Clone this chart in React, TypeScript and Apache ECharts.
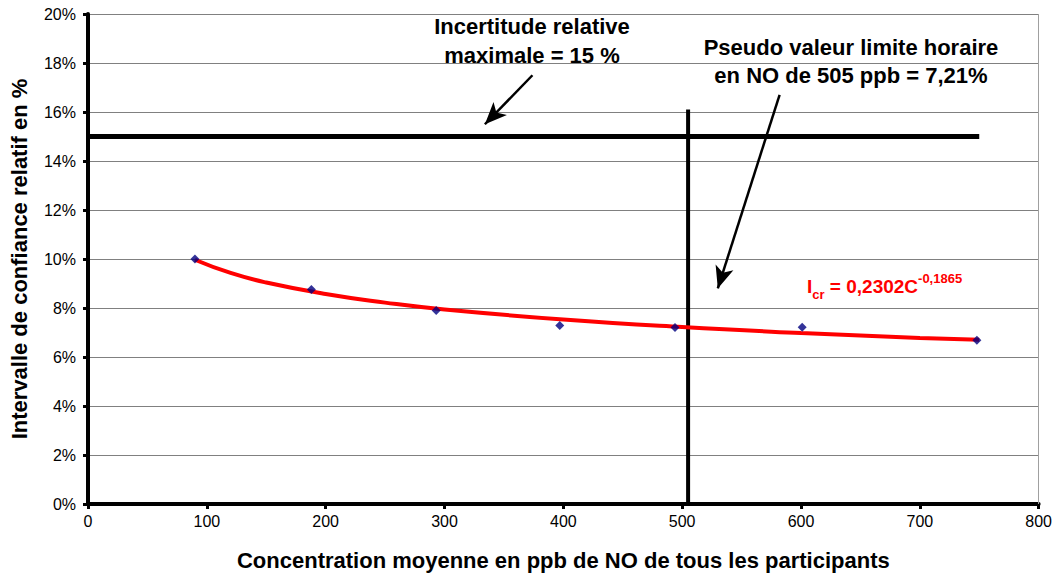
import React, { useEffect, useRef } from "react";
import * as echarts from "echarts";

// Measured points (concentration ppb, relative interval %)
const pointX = [90, 188, 293, 397, 494, 601, 748];
const pointY = [10.0, 8.76, 7.9, 7.29, 7.2, 7.21, 6.68];

// Power trendline
const trendX = [90, 120, 150, 200, 250, 300, 400, 500, 600, 700, 750];
const trendY = [9.97, 9.43, 9.04, 8.57, 8.22, 7.94, 7.53, 7.22, 6.98, 6.78, 6.7];

// Limit lines
const maxUncertaintyX = [0, 750];
const maxUncertaintyY = [15, 15];
const limitValueX = [505, 505];
const limitValueY = [0, 16.1];

const xTicks = [0, 100, 200, 300, 400, 500, 600, 700, 800];
const yTicks = [0, 2, 4, 6, 8, 10, 12, 14, 16, 18, 20];

const titleX = "Concentration moyenne en ppb de NO de tous les participants";
const titleY = "Intervalle de confiance relatif en %";
const note1 = "Incertitude relative\nmaximale = 15 %";
const note2 = "Pseudo valeur limite horaire\nen NO de 505 ppb = 7,21%";

const FONT = "'Liberation Sans', Arial, sans-serif";

export default function App() {
  const ref = useRef<HTMLDivElement>(null);
  useEffect(() => {
    if (!ref.current) return;
    const chart = echarts.init(ref.current, null, { renderer: "svg" });
    const toPairs = (xs: number[], ys: number[]) => xs.map((x, i) => [x, ys[i]]);
    chart.setOption({
      animation: false,
      textStyle: { fontFamily: FONT },
      grid: { left: 88, right: 16, top: 14, bottom: 71, containLabel: false },
      xAxis: {
        type: "value",
        min: xTicks[0],
        max: xTicks[xTicks.length - 1],
        interval: 100,
        name: titleX,
        nameLocation: "middle",
        nameGap: 45,
        nameTextStyle: { fontSize: 22, fontWeight: "bold", color: "#000", fontFamily: FONT },
        axisLine: { show: true, onZero: false, lineStyle: { color: "#000", width: 4 } },
        axisTick: { show: true, inside: false, length: 5, lineStyle: { color: "#000", width: 3 } },
        axisLabel: { fontSize: 16, color: "#000", margin: 9, fontFamily: FONT },
        splitLine: { show: false },
      },
      yAxis: {
        type: "value",
        min: yTicks[0],
        max: yTicks[yTicks.length - 1],
        interval: 2,
        name: titleY,
        nameLocation: "middle",
        nameGap: 58,
        nameTextStyle: { fontSize: 22, fontWeight: "bold", color: "#000", fontFamily: FONT },
        axisLine: { show: true, lineStyle: { color: "#000", width: 4 } },
        axisTick: { show: true, inside: false, length: 5, lineStyle: { color: "#000", width: 3 } },
        axisLabel: { fontSize: 16, color: "#000", margin: 12, formatter: "{value}%", fontFamily: FONT },
        splitLine: { show: true, lineStyle: { color: "#808080", width: 1 } },
      },
      series: [
        {
          type: "line",
          data: toPairs(maxUncertaintyX, maxUncertaintyY),
          symbol: "none",
          lineStyle: { color: "#000", width: 5 },
          z: 3,
          markLine: {
            silent: true,
            symbol: ["none", "none"],
            label: { show: false },
            lineStyle: { color: "#a0a0a0", width: 1, type: "solid" },
            data: [{ xAxis: 800 }],
          },
        },
        {
          type: "line",
          data: toPairs(limitValueX, limitValueY),
          symbol: "none",
          lineStyle: { color: "#000", width: 4 },
          z: 3,
          markLine: {
            silent: true,
            symbol: ["none", "arrow"],
            symbolSize: [14, 22],
            label: { show: false },
            lineStyle: { color: "#000", width: 2.5, type: "solid" },
            data: [
              [{ coord: [374, 17.5] }, { coord: [334, 15.5] }],
              [{ coord: [582, 16.7] }, { coord: [530, 8.8] }],
            ],
          },
        },
        {
          type: "line",
          data: toPairs(trendX, trendY),
          smooth: true,
          symbol: "none",
          lineStyle: { color: "#ff0000", width: 4 },
          z: 4,
        },
        {
          type: "scatter",
          data: toPairs(pointX, pointY),
          symbol: "diamond",
          symbolSize: 9,
          itemStyle: { color: "#000080" },
          z: 5,
        },
      ],
      graphic: [
        {
          type: "text",
          x: 532,
          y: 12,
          style: {
            text: note1,
            font: `bold 22px ${FONT}`,
            fill: "#000",
            align: "center",
            verticalAlign: "top",
            lineHeight: 29,
          },
        },
        {
          type: "text",
          x: 851,
          y: 33,
          style: {
            text: note2,
            font: `bold 22px ${FONT}`,
            fill: "#000",
            align: "center",
            verticalAlign: "top",
            lineHeight: 28,
          },
        },
        {
          type: "text",
          x: 807,
          y: 272,
          style: {
            text: "{m|I}{s|cr}{m| = 0,2302C}{p|-0,1865}",
            fill: "#ff0000",
            rich: {
              m: { font: `bold 19px ${FONT}`, fill: "#ff0000", verticalAlign: "bottom", lineHeight: 24 },
              s: { font: `bold 13px ${FONT}`, fill: "#ff0000", verticalAlign: "bottom", padding: [0, 0, -5, 0] },
              p: { font: `bold 13px ${FONT}`, fill: "#ff0000", verticalAlign: "top", padding: [0, 0, 9, 0] },
            },
          },
        },
      ],
    });
    return () => chart.dispose();
  }, []);
  return <div ref={ref} style={{ width: 1055, height: 576, position: "absolute", left: 0, top: 0 }} />;
}
